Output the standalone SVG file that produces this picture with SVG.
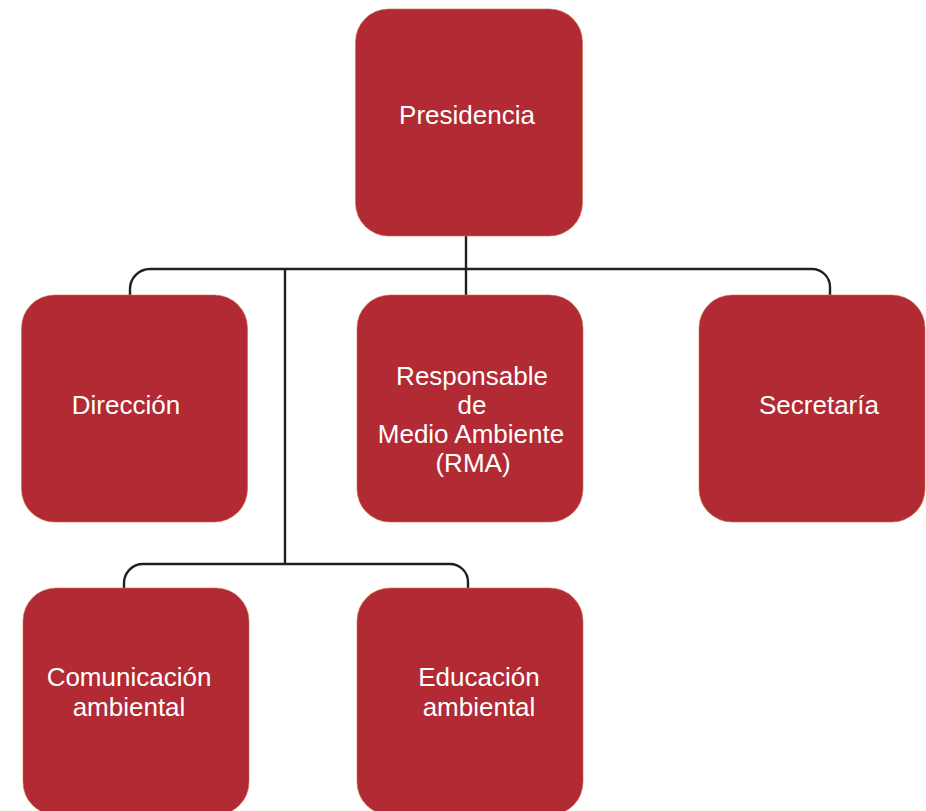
<svg xmlns="http://www.w3.org/2000/svg" width="926" height="811" viewBox="0 0 926 811">
<style>
.box{fill:#b22a33;stroke:#c9703f;stroke-width:0.6}
.lbl{font-family:"Liberation Sans",Arial,sans-serif;font-size:26px;fill:#ffffff;text-anchor:middle}
.conn{fill:none;stroke:#231f20;stroke-width:2.4}
</style>
<rect width="926" height="811" fill="#ffffff"/>
<g id="connectors">
<path class="conn" d="M466,236 V295"/>
<path class="conn" d="M130,295 V289 A20,20 0 0 1 150,269 H812 A18,18 0 0 1 830,287 V295"/>
<path class="conn" d="M285,269 V564"/>
<path class="conn" d="M124,588 V583 A19,19 0 0 1 143,564 H450 A18,18 0 0 1 468,582 V588"/>
</g>
<g id="presidencia">
<rect class="box" x="355.5" y="9" width="227" height="227" rx="33" ry="33"/>
<text class="lbl" x="467" y="124">Presidencia</text>
</g>
<g id="direccion">
<rect class="box" x="21.5" y="295" width="226" height="227" rx="33" ry="33"/>
<text class="lbl" x="126" y="414">Dirección</text>
</g>
<g id="rma">
<rect class="box" x="357" y="295" width="226" height="227" rx="33" ry="33"/>
<text class="lbl" x="472" y="385">Responsable</text>
<text class="lbl" x="472" y="414">de</text>
<text class="lbl" x="471" y="443">Medio Ambiente</text>
<text class="lbl" x="473" y="472">(RMA)</text>
</g>
<g id="secretaria">
<rect class="box" x="699" y="295" width="226" height="227" rx="33" ry="33"/>
<text class="lbl" x="819" y="414">Secretaría</text>
</g>
<g id="comunicacion">
<rect class="box" x="23" y="588" width="226" height="227" rx="33" ry="33"/>
<text class="lbl" x="129" y="686">Comunicación</text>
<text class="lbl" x="129" y="716">ambiental</text>
</g>
<g id="educacion">
<rect class="box" x="357" y="588" width="226" height="227" rx="33" ry="33"/>
<text class="lbl" x="479" y="686">Educación</text>
<text class="lbl" x="479" y="716">ambiental</text>
</g>
</svg>
